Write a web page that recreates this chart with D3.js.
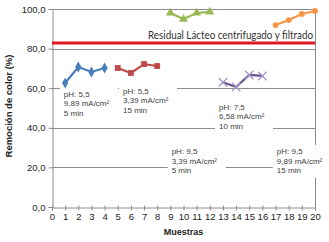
<!DOCTYPE html>
<html>
<head>
<meta charset="utf-8">
<script src="https://cdn.jsdelivr.net/npm/d3@7"></script>
<style>
  body { margin: 0; background: #fff; }
  svg { display: block; font-family: "Liberation Sans", Arial, sans-serif; }
</style>
</head>
<body>
<div id="chart"></div>
<script>
// datos
const xBlue = [1, 2, 3, 4];
const yBlue = [62.6, 70.7, 68.2, 70.2];
const xRed = [5, 6, 7, 8];
const yRed = [70.2, 67.7, 72.2, 71.2];
const xGreen = [9, 10, 11, 12];
const yGreen = [98.0, 94.9, 98.0, 98.5];
const xPurple = [13, 14, 15, 16];
const yPurple = [63.0, 60.6, 66.7, 66.2];
const xOrange = [17, 18, 19, 20];
const yOrange = [91.9, 94.4, 97.5, 99.0];

const referenceValue = 82.8;
const referenceLabel = "Residual Lácteo centrifugado y filtrado";

const xTicks = d3.range(0, 21);
const yTicks = [0, 20, 40, 60, 80, 100];

const conditionLabels = [
    ["pH: 5,5", "9,89 mA/cm²", "5 min"],
    ["pH: 5,5", "3,39 mA/cm²", "15 min"],
    ["pH: 7,5", "6,58 mA/cm²", "10 min"],
    ["pH: 9,5", "3,39 mA/cm²", "5 min"],
    ["pH: 9,5", "9,89 mA/cm²", "15 min"]
];
// posición de cada etiqueta en unidades de datos (x, y de la primera línea)
const labelAnchorX = [0.9, 5.4, 12.7, 9.1, 17.1];
const labelAnchorY = [58.7, 60.2, 52.2, 29.8, 29.8];

const width = 329, height = 242;
const margin = { top: 9, right: 14, bottom: 35, left: 52 };

const svg = d3.select("#chart")
    .append("svg")
    .attr("width", width)
    .attr("height", height);

const x = d3.scaleLinear().domain([0, 20]).range([margin.left, width - margin.right]);
const y = d3.scaleLinear().domain([0, 100]).range([height - margin.bottom, margin.top]);

const es = d3.formatLocale({ decimal: ",", thousands: ".", grouping: [3], currency: ["", "€"] });
const fmt = es.format(".1f");

const gridColor = "#8c8c8c";

// líneas de cuadrícula
svg.append("g")
    .attr("class", "grid")
    .selectAll("line")
    .data(yTicks.filter(d => d > 0))
    .join("line")
    .attr("x1", x(0))
    .attr("x2", x(20))
    .attr("y1", d => Math.round(y(d)) + 0.5)
    .attr("y2", d => Math.round(y(d)) + 0.5)
    .attr("stroke", gridColor)
    .attr("stroke-width", 1);

// borde derecho
svg.append("line")
    .attr("x1", Math.round(x(20)) + 0.5)
    .attr("x2", Math.round(x(20)) + 0.5)
    .attr("y1", y(100))
    .attr("y2", y(0))
    .attr("stroke", gridColor);

// eje Y
const yAxis = svg.append("g")
    .attr("transform", `translate(${Math.round(x(0)) + 0.5},0)`)
    .call(d3.axisLeft(y).tickValues(yTicks).tickFormat(fmt).tickSize(4).tickPadding(3));
yAxis.select(".domain").attr("stroke", gridColor);
yAxis.selectAll(".tick line").attr("stroke", gridColor);
yAxis.selectAll("text")
    .style("font-size", "9.5px")
    .attr("fill", "#222");

// eje X
const xAxis = svg.append("g")
    .attr("transform", `translate(0,${Math.round(y(0)) + 0.5})`)
    .call(d3.axisBottom(x).tickValues(xTicks).tickFormat(d3.format("d")).tickSize(3).tickPadding(3));
xAxis.select(".domain").attr("stroke", gridColor);
xAxis.selectAll(".tick line").attr("stroke", gridColor).attr("y1", -2);
xAxis.selectAll("text")
    .style("font-size", "9.5px")
    .attr("fill", "#222");

// etiquetas de condiciones con fondo blanco
const lineGap = 9.6;
conditionLabels.forEach((lines, i) => {
    const g = svg.append("g")
        .attr("transform", `translate(${x(labelAnchorX[i])},${y(labelAnchorY[i])})`);
    g.append("rect")
        .attr("x", -4)
        .attr("y", -3)
        .attr("width", 58)
        .attr("height", lines.length * lineGap + 4)
        .attr("fill", "#fff");
    g.selectAll("text")
        .data(lines)
        .join("text")
        .attr("x", 0)
        .attr("y", (d, j) => 6 + j * lineGap)
        .style("font-size", "8px")
        .attr("fill", "#404040")
        .text(d => d);
});

// línea de referencia
svg.append("line")
    .attr("x1", x(0))
    .attr("x2", x(20))
    .attr("y1", y(referenceValue))
    .attr("y2", y(referenceValue))
    .attr("stroke", "#e0181f")
    .attr("stroke-width", 3);

svg.append("text")
    .attr("x", x(20) - 2)
    .attr("y", y(referenceValue) - 4)
    .attr("text-anchor", "end")
    .attr("textLength", 165)
    .attr("lengthAdjust", "spacingAndGlyphs")
    .style("font-family", "Lato, 'Open Sans', sans-serif")
    .style("font-size", "10.5px")
    .attr("fill", "#333")
    .text(referenceLabel);

// series
const series = [
    { xs: xBlue, ys: yBlue, color: "#4a7ebb", marker: "diamond" },
    { xs: xRed, ys: yRed, color: "#be4b48", marker: "square" },
    { xs: xGreen, ys: yGreen, color: "#98b954", marker: "triangle" },
    { xs: xPurple, ys: yPurple, color: "#6a5590", marker: "x" },
    { xs: xOrange, ys: yOrange, color: "#f79646", marker: "circle" }
];

const line = d3.line().x(d => x(d[0])).y(d => y(d[1]));

const markerPath = {
    diamond: d3.symbol(d3.symbolDiamond, 34)(),
    square: d3.symbol(d3.symbolSquare, 34)(),
    triangle: d3.symbol(d3.symbolTriangle, 34)(),
    circle: d3.symbol(d3.symbolCircle, 26)()
};

series.forEach(s => {
    const pts = s.xs.map((v, i) => [v, s.ys[i]]);
    svg.append("path")
        .datum(pts)
        .attr("d", line)
        .attr("fill", "none")
        .attr("stroke", s.color)
        .attr("stroke-width", 2.2);
    const m = svg.append("g").selectAll("path")
        .data(pts)
        .join("path");
    if (s.marker === "x") {
        m.attr("transform", d => `translate(${x(d[0])},${y(d[1])}) rotate(45)`)
            .attr("d", "M-6,0H6M0,-6V6")
            .attr("stroke", "#a596c4")
            .attr("stroke-width", 1.3)
            .attr("fill", "none");
    } else {
        m.attr("transform", d => `translate(${x(d[0])},${y(d[1])})`)
            .attr("d", markerPath[s.marker])
            .attr("fill", s.color);
    }
});

// títulos de los ejes
svg.append("text")
    .attr("transform", `translate(12,106) rotate(-90)`)
    .attr("text-anchor", "middle")
    .style("font-size", "9.5px")
    .style("font-weight", "bold")
    .attr("fill", "#222")
    .text("Remoción de color (%)");

svg.append("text")
    .attr("x", (x(0) + x(20)) / 2)
    .attr("y", 235)
    .attr("text-anchor", "middle")
    .style("font-size", "9px")
    .style("font-weight", "bold")
    .attr("fill", "#222")
    .text("Muestras");
</script>
</body>
</html>
